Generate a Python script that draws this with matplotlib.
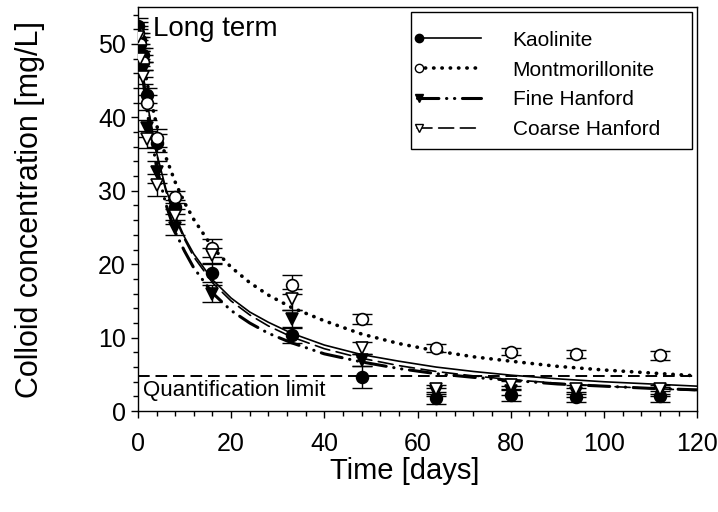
import numpy as np
import matplotlib
matplotlib.use('Agg')
import matplotlib.pyplot as plt
from matplotlib.lines import Line2D
from matplotlib.patches import Rectangle
from matplotlib.legend_handler import HandlerLine2DCompound

plt.rcParams['font.family'] = ['Liberation Sans', 'DejaVu Sans']

# measured points
days = [0, 0.5, 1, 2, 4, 8, 16, 33, 48, 64, 80, 94, 112]
kaolinite = [52.5, 50.5, 48.5, 43.0, 36.5, 27.8, 18.8, 10.3, 4.6, 1.8, 2.2, 1.9, 2.0]
kaolinite_err = [1.0, 1.0, 1.0, 1.0, 1.2, 1.0, 1.2, 1.0, 1.5, 0.8, 0.8, 0.7, 0.7]
montmorillonite = [51.5, 50.0, 47.5, 42.0, 37.2, 29.2, 22.2, 17.2, 12.5, 8.6, 8.1, 7.8, 7.6]
montmorillonite_err = [1.0, 1.0, 1.0, 1.0, 1.2, 0.8, 1.2, 1.3, 0.7, 0.5, 0.5, 0.5, 0.6]
fine_hanford = [52.0, 49.0, 46.5, 38.5, 32.5, 25.0, 16.0, 12.6, 7.0, 2.6, 2.8, 2.5, 2.7]
fine_hanford_err = [1.0, 1.0, 1.0, 1.2, 1.5, 1.0, 1.2, 1.2, 0.8, 0.6, 0.6, 0.6, 0.6]
coarse_hanford = [51.0, 48.0, 45.5, 37.0, 30.8, 26.5, 21.2, 15.2, 8.6, 3.0, 3.5, 3.0, 3.0]
coarse_hanford_err = [1.0, 1.0, 1.0, 1.2, 1.5, 1.0, 1.0, 1.4, 0.8, 0.6, 0.6, 0.6, 0.6]

# fitted curves
fit_days = [0, 1, 2, 4, 6, 8, 10, 12, 16, 20, 24, 28, 33, 40, 48, 56, 64, 72, 80, 90, 100, 110, 120]
fit_kaolinite = [52, 46.5, 42.0, 35.2, 30.3, 26.6, 23.7, 21.4, 17.9, 15.4, 13.5, 12.1, 10.6,
                 9.0, 7.7, 6.8, 6.0, 5.4, 4.9, 4.4, 4.0, 3.7, 3.4]
fit_montmorillonite = [52, 48.0, 44.6, 39.0, 34.6, 31.2, 28.4, 26.1, 22.3, 19.6, 17.5, 15.8, 14.1,
                       12.3, 10.5, 9.2, 8.2, 7.4, 6.8, 6.1, 5.6, 5.2, 4.8]
fit_fine = [52, 45.7, 40.7, 33.3, 28.2, 24.4, 21.8, 19.5, 16.1, 13.7, 12.0, 10.6, 9.3,
            7.8, 6.7, 5.8, 5.1, 4.6, 4.2, 3.7, 3.4, 3.1, 2.9]
fit_coarse = [52, 46.3, 41.8, 35.0, 30.0, 26.3, 23.4, 21.0, 17.5, 15.0, 13.1, 11.6, 10.1,
              8.5, 7.2, 6.2, 5.4, 4.8, 4.3, 3.8, 3.4, 3.1, 2.8]

quant_limit = 4.8

labels = ['Kaolinite', 'Montmorillonite', 'Fine Hanford', 'Coarse Hanford']


class MarkerLeftHandler(HandlerLine2DCompound):
    """legend line with the marker at its left end"""
    def get_xdata(self, legend, xdescent, ydescent, width, height, fontsize):
        xdata = np.array([-xdescent, -xdescent + width])
        return xdata, np.array([-xdescent + 2])


fig = plt.figure(figsize=(7.18, 5.12), dpi=100)
ax = fig.add_axes([0.192, 0.197, 0.779, 0.789])

styles = [
    dict(ls='-', lw=1.2, marker='o', mfc='black'),
    dict(ls=(0, (0.1, 2.2)), lw=2.6, marker='o', mfc='white'),
    dict(ls=(0, (7, 2.5, 0.1, 2.5, 0.1, 2.5)), lw=2.2, marker='v', mfc='black'),
    dict(ls=(0, (9, 4)), lw=1.2, marker='v', mfc='white'),
]
series = [
    (kaolinite, kaolinite_err, fit_kaolinite),
    (montmorillonite, montmorillonite_err, fit_montmorillonite),
    (fine_hanford, fine_hanford_err, fit_fine),
    (coarse_hanford, coarse_hanford_err, fit_coarse),
]

handles = []
for (vals, errs, fit), st in zip(series, styles):
    ax.plot(fit_days, fit, color='black', ls=st['ls'], lw=st['lw'],
            dash_capstyle='round', zorder=2)
    ax.errorbar(days, vals, yerr=errs, fmt='none', ecolor='black',
                elinewidth=1.0, capsize=7, capthick=1.0, zorder=3)
    ax.plot(days, vals, ls='none', marker=st['marker'], ms=8.5,
            mfc=st['mfc'], mec='black', mew=1.2, zorder=4)
    handles.append(Line2D([], [], color='black', ls=st['ls'], lw=st['lw'],
                          dash_capstyle='round', marker=st['marker'], ms=6,
                          mfc=st['mfc'], mec='black', mew=1.0))

ax.axhline(quant_limit, color='black', ls=(0, (6, 3)), lw=1.4, zorder=1)
ax.text(1.0, quant_limit - 0.5, 'Quantification limit', fontsize=16,
        va='top', ha='left')
ax.text(3.3, 53.8, 'Long term', fontsize=20, va='top', ha='left')

ax.set_xlim(0, 120)
ax.set_ylim(0, 55)
ax.set_xticks(np.arange(0, 121, 20))
ax.set_xticks(np.arange(0, 121, 4), minor=True)
ax.set_yticks(np.arange(0, 51, 10))
ax.set_yticks(np.arange(0, 55, 2), minor=True)
ax.tick_params(which='both', direction='out', top=False, right=False,
               labelsize=18, width=1.0)
ax.tick_params(which='major', length=5)
ax.tick_params(which='minor', length=3.5)
ax.tick_params(axis='x', which='major', pad=10)
for sp in ax.spines.values():
    sp.set_linewidth(1.0)

ax.set_xlabel('Time [days]', fontsize=21)
ax.xaxis.set_label_coords(0.478, -0.113)
ax.set_ylabel('Colloid concentration [mg/L]', fontsize=22, labelpad=38)

# legend box, drawn apart so its frame sits just inside the axes corner
ax.add_patch(Rectangle((0.488, 0.649), 0.503, 0.339, transform=ax.transAxes,
                       facecolor='white', edgecolor='black', lw=1.0, zorder=5))
leg = ax.legend(handles, labels, loc='upper left',
                bbox_to_anchor=(0.465, 0.988), borderaxespad=0,
                fontsize=15, handlelength=3.1, handletextpad=1.5,
                labelspacing=0.52, borderpad=0.9, frameon=False,
                handler_map={Line2D: MarkerLeftHandler()})
leg.set_zorder(6)

fig.savefig('out.png', dpi=100)
